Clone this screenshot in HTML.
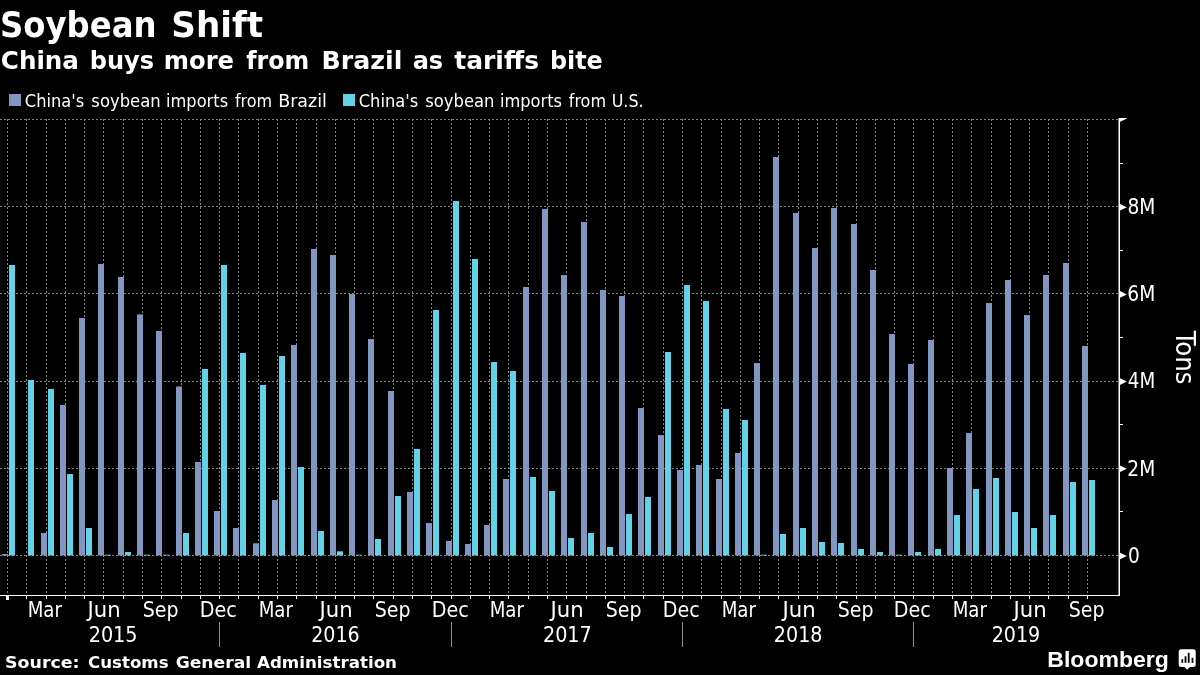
<!DOCTYPE html>
<html lang="en"><head><meta charset="utf-8"><title>Soybean Shift</title>
<style>
html,body{margin:0;padding:0;background:#000;}
body{width:1200px;height:675px;overflow:hidden;}
svg{display:block;}
text{fill:#fff;}
.b{font-family:"DejaVu Sans","Liberation Sans",sans-serif;font-weight:bold;}
.c{font-family:"DejaVu Sans Condensed","DejaVu Sans","Liberation Sans",sans-serif;}
.lg{font-family:"Liberation Sans","DejaVu Sans",sans-serif;font-weight:bold;}
</style></head><body>
<svg width="1200" height="675" viewBox="0 0 1200 675">
<rect width="1200" height="675" fill="#000"/>
<g stroke="#858585" stroke-width="1" stroke-dasharray="2 2" shape-rendering="crispEdges">
<line x1="0" y1="555.5" x2="1118" y2="555.5"/>
<line x1="0" y1="468.5" x2="1118" y2="468.5"/>
<line x1="0" y1="381.5" x2="1118" y2="381.5"/>
<line x1="0" y1="293.5" x2="1118" y2="293.5"/>
<line x1="0" y1="206.5" x2="1118" y2="206.5"/>
<line x1="0" y1="119.5" x2="1118" y2="119.5"/>
<line x1="7.5" y1="119" x2="7.5" y2="595"/>
<line x1="26.5" y1="119" x2="26.5" y2="595"/>
<line x1="46.5" y1="119" x2="46.5" y2="595"/>
<line x1="65.5" y1="119" x2="65.5" y2="595"/>
<line x1="84.5" y1="119" x2="84.5" y2="595"/>
<line x1="103.5" y1="119" x2="103.5" y2="595"/>
<line x1="123.5" y1="119" x2="123.5" y2="595"/>
<line x1="142.5" y1="119" x2="142.5" y2="595"/>
<line x1="161.5" y1="119" x2="161.5" y2="595"/>
<line x1="181.5" y1="119" x2="181.5" y2="595"/>
<line x1="200.5" y1="119" x2="200.5" y2="595"/>
<line x1="219.5" y1="119" x2="219.5" y2="595"/>
<line x1="238.5" y1="119" x2="238.5" y2="595"/>
<line x1="258.5" y1="119" x2="258.5" y2="595"/>
<line x1="277.5" y1="119" x2="277.5" y2="595"/>
<line x1="296.5" y1="119" x2="296.5" y2="595"/>
<line x1="316.5" y1="119" x2="316.5" y2="595"/>
<line x1="335.5" y1="119" x2="335.5" y2="595"/>
<line x1="354.5" y1="119" x2="354.5" y2="595"/>
<line x1="373.5" y1="119" x2="373.5" y2="595"/>
<line x1="393.5" y1="119" x2="393.5" y2="595"/>
<line x1="412.5" y1="119" x2="412.5" y2="595"/>
<line x1="431.5" y1="119" x2="431.5" y2="595"/>
<line x1="451.5" y1="119" x2="451.5" y2="595"/>
<line x1="470.5" y1="119" x2="470.5" y2="595"/>
<line x1="489.5" y1="119" x2="489.5" y2="595"/>
<line x1="508.5" y1="119" x2="508.5" y2="595"/>
<line x1="528.5" y1="119" x2="528.5" y2="595"/>
<line x1="547.5" y1="119" x2="547.5" y2="595"/>
<line x1="566.5" y1="119" x2="566.5" y2="595"/>
<line x1="586.5" y1="119" x2="586.5" y2="595"/>
<line x1="605.5" y1="119" x2="605.5" y2="595"/>
<line x1="624.5" y1="119" x2="624.5" y2="595"/>
<line x1="643.5" y1="119" x2="643.5" y2="595"/>
<line x1="663.5" y1="119" x2="663.5" y2="595"/>
<line x1="682.5" y1="119" x2="682.5" y2="595"/>
<line x1="701.5" y1="119" x2="701.5" y2="595"/>
<line x1="721.5" y1="119" x2="721.5" y2="595"/>
<line x1="740.5" y1="119" x2="740.5" y2="595"/>
<line x1="759.5" y1="119" x2="759.5" y2="595"/>
<line x1="778.5" y1="119" x2="778.5" y2="595"/>
<line x1="798.5" y1="119" x2="798.5" y2="595"/>
<line x1="817.5" y1="119" x2="817.5" y2="595"/>
<line x1="836.5" y1="119" x2="836.5" y2="595"/>
<line x1="856.5" y1="119" x2="856.5" y2="595"/>
<line x1="875.5" y1="119" x2="875.5" y2="595"/>
<line x1="894.5" y1="119" x2="894.5" y2="595"/>
<line x1="913.5" y1="119" x2="913.5" y2="595"/>
<line x1="933.5" y1="119" x2="933.5" y2="595"/>
<line x1="952.5" y1="119" x2="952.5" y2="595"/>
<line x1="971.5" y1="119" x2="971.5" y2="595"/>
<line x1="991.5" y1="119" x2="991.5" y2="595"/>
<line x1="1010.5" y1="119" x2="1010.5" y2="595"/>
<line x1="1029.5" y1="119" x2="1029.5" y2="595"/>
<line x1="1048.5" y1="119" x2="1048.5" y2="595"/>
<line x1="1068.5" y1="119" x2="1068.5" y2="595"/>
<line x1="1087.5" y1="119" x2="1087.5" y2="595"/>
</g>
<g fill="#8296c2">
<rect x="2" y="554" width="6" height="1.5"/>
<rect x="41" y="533" width="6" height="22.5"/>
<rect x="60" y="405" width="6" height="150.5"/>
<rect x="79" y="318" width="6" height="237.5"/>
<rect x="98" y="264" width="6" height="291.5"/>
<rect x="118" y="277" width="6" height="278.5"/>
<rect x="137" y="314.4" width="6" height="241.1"/>
<rect x="156" y="331" width="6" height="224.5"/>
<rect x="176" y="386.5" width="6" height="169.0"/>
<rect x="195" y="462" width="6" height="93.5"/>
<rect x="214" y="511" width="6" height="44.5"/>
<rect x="233" y="528" width="6" height="27.5"/>
<rect x="253" y="543.3" width="6" height="12.2"/>
<rect x="272" y="500" width="6" height="55.5"/>
<rect x="291" y="345" width="6" height="210.5"/>
<rect x="311" y="249" width="6" height="306.5"/>
<rect x="330" y="255" width="6" height="300.5"/>
<rect x="349" y="294" width="6" height="261.5"/>
<rect x="368" y="339" width="6" height="216.5"/>
<rect x="388" y="391" width="6" height="164.5"/>
<rect x="407" y="492" width="6" height="63.5"/>
<rect x="426" y="523" width="6" height="32.5"/>
<rect x="446" y="541" width="6" height="14.5"/>
<rect x="465" y="544" width="6" height="11.5"/>
<rect x="484" y="525" width="6" height="30.5"/>
<rect x="503" y="479" width="6" height="76.5"/>
<rect x="523" y="287" width="6" height="268.5"/>
<rect x="542" y="209" width="6" height="346.5"/>
<rect x="561" y="275" width="6" height="280.5"/>
<rect x="581" y="222" width="6" height="333.5"/>
<rect x="600" y="290" width="6" height="265.5"/>
<rect x="619" y="296" width="6" height="259.5"/>
<rect x="638" y="408" width="6" height="147.5"/>
<rect x="658" y="435" width="6" height="120.5"/>
<rect x="677" y="470" width="6" height="85.5"/>
<rect x="696" y="465" width="6" height="90.5"/>
<rect x="716" y="479" width="6" height="76.5"/>
<rect x="735" y="453" width="6" height="102.5"/>
<rect x="754" y="363" width="6" height="192.5"/>
<rect x="773" y="157" width="6" height="398.5"/>
<rect x="793" y="213" width="6" height="342.5"/>
<rect x="812" y="248" width="6" height="307.5"/>
<rect x="831" y="208" width="6" height="347.5"/>
<rect x="851" y="224" width="6" height="331.5"/>
<rect x="870" y="270" width="6" height="285.5"/>
<rect x="889" y="334" width="6" height="221.5"/>
<rect x="908" y="364" width="6" height="191.5"/>
<rect x="928" y="340" width="6" height="215.5"/>
<rect x="947" y="468" width="6" height="87.5"/>
<rect x="966" y="433" width="6" height="122.5"/>
<rect x="986" y="303" width="6" height="252.5"/>
<rect x="1005" y="280" width="6" height="275.5"/>
<rect x="1024" y="315" width="6" height="240.5"/>
<rect x="1043" y="275" width="6" height="280.5"/>
<rect x="1063" y="263" width="6" height="292.5"/>
<rect x="1082" y="346" width="6" height="209.5"/>
</g>
<g fill="#62d3e6">
<rect x="9" y="265" width="6" height="290.5"/>
<rect x="28" y="380" width="6" height="175.5"/>
<rect x="48" y="389" width="6" height="166.5"/>
<rect x="67" y="474" width="6" height="81.5"/>
<rect x="86" y="528" width="6" height="27.5"/>
<rect x="105" y="554.7" width="6" height="0.8"/>
<rect x="125" y="552" width="6" height="3.5"/>
<rect x="144" y="554.7" width="6" height="0.8"/>
<rect x="163" y="554.7" width="6" height="0.8"/>
<rect x="183" y="533" width="6" height="22.5"/>
<rect x="202" y="369" width="6" height="186.5"/>
<rect x="221" y="265" width="6" height="290.5"/>
<rect x="240" y="353" width="6" height="202.5"/>
<rect x="260" y="385" width="6" height="170.5"/>
<rect x="279" y="356" width="6" height="199.5"/>
<rect x="298" y="467" width="6" height="88.5"/>
<rect x="318" y="531" width="6" height="24.5"/>
<rect x="337" y="551.3" width="6" height="4.2"/>
<rect x="356" y="554.7" width="6" height="0.8"/>
<rect x="375" y="539" width="6" height="16.5"/>
<rect x="395" y="496" width="6" height="59.5"/>
<rect x="414" y="449" width="6" height="106.5"/>
<rect x="433" y="310" width="6" height="245.5"/>
<rect x="453" y="201" width="6" height="354.5"/>
<rect x="472" y="259" width="6" height="296.5"/>
<rect x="491" y="362" width="6" height="193.5"/>
<rect x="510" y="371" width="6" height="184.5"/>
<rect x="530" y="477" width="6" height="78.5"/>
<rect x="549" y="491" width="6" height="64.5"/>
<rect x="568" y="538" width="6" height="17.5"/>
<rect x="588" y="533" width="6" height="22.5"/>
<rect x="607" y="547" width="6" height="8.5"/>
<rect x="626" y="514" width="6" height="41.5"/>
<rect x="645" y="497" width="6" height="58.5"/>
<rect x="665" y="352" width="6" height="203.5"/>
<rect x="684" y="285" width="6" height="270.5"/>
<rect x="703" y="301" width="6" height="254.5"/>
<rect x="723" y="409" width="6" height="146.5"/>
<rect x="742" y="420" width="6" height="135.5"/>
<rect x="761" y="554.7" width="6" height="0.8"/>
<rect x="780" y="534" width="6" height="21.5"/>
<rect x="800" y="528" width="6" height="27.5"/>
<rect x="819" y="542" width="6" height="13.5"/>
<rect x="838" y="543" width="6" height="12.5"/>
<rect x="858" y="549" width="6" height="6.5"/>
<rect x="877" y="552" width="6" height="3.5"/>
<rect x="896" y="554.7" width="6" height="0.8"/>
<rect x="915" y="552" width="6" height="3.5"/>
<rect x="935" y="549" width="6" height="6.5"/>
<rect x="954" y="515" width="6" height="40.5"/>
<rect x="973" y="489" width="6" height="66.5"/>
<rect x="993" y="478" width="6" height="77.5"/>
<rect x="1012" y="512" width="6" height="43.5"/>
<rect x="1031" y="528" width="6" height="27.5"/>
<rect x="1050" y="515" width="6" height="40.5"/>
<rect x="1070" y="482" width="6" height="73.5"/>
<rect x="1089" y="480" width="6" height="75.5"/>
</g>
<g fill="#fff" shape-rendering="crispEdges">
<rect x="0" y="595" width="1120" height="1"/>
<rect x="1118.5" y="118" width="1.5" height="478" shape-rendering="geometricPrecision"/>
<rect x="6" y="595" width="3" height="5"/>
<rect x="26" y="595" width="1" height="4"/>
<rect x="46" y="595" width="1" height="4"/>
<rect x="65" y="595" width="1" height="4"/>
<rect x="84" y="595" width="1" height="4"/>
<rect x="103" y="595" width="1" height="4"/>
<rect x="123" y="595" width="1" height="4"/>
<rect x="142" y="595" width="1" height="4"/>
<rect x="161" y="595" width="1" height="4"/>
<rect x="181" y="595" width="1" height="4"/>
<rect x="200" y="595" width="1" height="4"/>
<rect x="219" y="595" width="1" height="4"/>
<rect x="238" y="595" width="1" height="4"/>
<rect x="258" y="595" width="1" height="4"/>
<rect x="277" y="595" width="1" height="4"/>
<rect x="296" y="595" width="1" height="4"/>
<rect x="316" y="595" width="1" height="4"/>
<rect x="335" y="595" width="1" height="4"/>
<rect x="354" y="595" width="1" height="4"/>
<rect x="373" y="595" width="1" height="4"/>
<rect x="393" y="595" width="1" height="4"/>
<rect x="412" y="595" width="1" height="4"/>
<rect x="431" y="595" width="1" height="4"/>
<rect x="451" y="595" width="1" height="4"/>
<rect x="470" y="595" width="1" height="4"/>
<rect x="489" y="595" width="1" height="4"/>
<rect x="508" y="595" width="1" height="4"/>
<rect x="528" y="595" width="1" height="4"/>
<rect x="547" y="595" width="1" height="4"/>
<rect x="566" y="595" width="1" height="4"/>
<rect x="586" y="595" width="1" height="4"/>
<rect x="605" y="595" width="1" height="4"/>
<rect x="624" y="595" width="1" height="4"/>
<rect x="643" y="595" width="1" height="4"/>
<rect x="663" y="595" width="1" height="4"/>
<rect x="682" y="595" width="1" height="4"/>
<rect x="701" y="595" width="1" height="4"/>
<rect x="721" y="595" width="1" height="4"/>
<rect x="740" y="595" width="1" height="4"/>
<rect x="759" y="595" width="1" height="4"/>
<rect x="778" y="595" width="1" height="4"/>
<rect x="798" y="595" width="1" height="4"/>
<rect x="817" y="595" width="1" height="4"/>
<rect x="836" y="595" width="1" height="4"/>
<rect x="856" y="595" width="1" height="4"/>
<rect x="875" y="595" width="1" height="4"/>
<rect x="894" y="595" width="1" height="4"/>
<rect x="913" y="595" width="1" height="4"/>
<rect x="933" y="595" width="1" height="4"/>
<rect x="952" y="595" width="1" height="4"/>
<rect x="971" y="595" width="1" height="4"/>
<rect x="991" y="595" width="1" height="4"/>
<rect x="1010" y="595" width="1" height="4"/>
<rect x="1029" y="595" width="1" height="4"/>
<rect x="1048" y="595" width="1" height="4"/>
<rect x="1068" y="595" width="1" height="4"/>
<rect x="1087" y="595" width="1" height="4"/>
<rect x="1119" y="511" width="4" height="1"/>
<rect x="1119" y="424" width="4" height="1"/>
<rect x="1119" y="337" width="4" height="1"/>
<rect x="1119" y="250" width="4" height="1"/>
<rect x="1119" y="162.6" width="4" height="1"/>
</g>
<g fill="#fff">
<path d="M1119 552.2 L1126.8 556.0 L1119 559.8 Z"/>
<path d="M1119 465.0 L1126.8 468.8 L1119 472.6 Z"/>
<path d="M1119 377.8 L1126.8 381.6 L1119 385.4 Z"/>
<path d="M1119 290.6 L1126.8 294.4 L1119 298.2 Z"/>
<path d="M1119 203.4 L1126.8 207.2 L1119 211.0 Z"/>
<path d="M1119 118 L1127 118 L1127 118.6 L1119 122.3 Z"/>
</g>
<g fill="#8f8f8f" shape-rendering="crispEdges">
<rect x="219" y="622" width="1" height="25"/>
<rect x="451" y="622" width="1" height="25"/>
<rect x="682" y="622" width="1" height="25"/>
<rect x="913" y="622" width="1" height="25"/>
</g>
<text class="c" font-size="20.5" x="1127.99" y="562.8" textLength="11.80" lengthAdjust="spacingAndGlyphs">0</text>
<text class="c" font-size="20.5" x="1127.39" y="475.6" textLength="27.90" lengthAdjust="spacingAndGlyphs">2M</text>
<text class="c" font-size="20.5" x="1127.84" y="388.4" textLength="27.41" lengthAdjust="spacingAndGlyphs">4M</text>
<text class="c" font-size="20.5" x="1127.39" y="301.2" textLength="27.90" lengthAdjust="spacingAndGlyphs">6M</text>
<text class="c" font-size="20.5" x="1127.43" y="214.0" textLength="27.86" lengthAdjust="spacingAndGlyphs">8M</text>
<g transform="translate(1175.8 0) rotate(90)"><text class="c" font-size="27" x="330.88" y="0.0" textLength="53.57" lengthAdjust="spacingAndGlyphs">Tons</text></g>
<text class="c" font-size="20.5" x="27.67" y="616.5" textLength="34.27" lengthAdjust="spacingAndGlyphs">Mar</text>
<text class="c" font-size="20.5" x="87.49" y="616.5" textLength="33.11" lengthAdjust="spacingAndGlyphs">Jun</text>
<text class="c" font-size="20.5" x="142.74" y="616.5" textLength="35.79" lengthAdjust="spacingAndGlyphs">Sep</text>
<text class="c" font-size="20.5" x="199.82" y="616.5" textLength="37.11" lengthAdjust="spacingAndGlyphs">Dec</text>
<text class="c" font-size="20.5" x="258.67" y="616.5" textLength="34.27" lengthAdjust="spacingAndGlyphs">Mar</text>
<text class="c" font-size="20.5" x="319.49" y="616.5" textLength="33.11" lengthAdjust="spacingAndGlyphs">Jun</text>
<text class="c" font-size="20.5" x="374.74" y="616.5" textLength="35.79" lengthAdjust="spacingAndGlyphs">Sep</text>
<text class="c" font-size="20.5" x="431.82" y="616.5" textLength="37.11" lengthAdjust="spacingAndGlyphs">Dec</text>
<text class="c" font-size="20.5" x="489.67" y="616.5" textLength="34.27" lengthAdjust="spacingAndGlyphs">Mar</text>
<text class="c" font-size="20.5" x="550.49" y="616.5" textLength="33.11" lengthAdjust="spacingAndGlyphs">Jun</text>
<text class="c" font-size="20.5" x="605.74" y="616.5" textLength="35.79" lengthAdjust="spacingAndGlyphs">Sep</text>
<text class="c" font-size="20.5" x="662.82" y="616.5" textLength="37.11" lengthAdjust="spacingAndGlyphs">Dec</text>
<text class="c" font-size="20.5" x="721.67" y="616.5" textLength="34.27" lengthAdjust="spacingAndGlyphs">Mar</text>
<text class="c" font-size="20.5" x="782.49" y="616.5" textLength="33.11" lengthAdjust="spacingAndGlyphs">Jun</text>
<text class="c" font-size="20.5" x="837.74" y="616.5" textLength="35.79" lengthAdjust="spacingAndGlyphs">Sep</text>
<text class="c" font-size="20.5" x="893.82" y="616.5" textLength="37.11" lengthAdjust="spacingAndGlyphs">Dec</text>
<text class="c" font-size="20.5" x="952.67" y="616.5" textLength="34.27" lengthAdjust="spacingAndGlyphs">Mar</text>
<text class="c" font-size="20.5" x="1013.49" y="616.5" textLength="33.11" lengthAdjust="spacingAndGlyphs">Jun</text>
<text class="c" font-size="20.5" x="1068.74" y="616.5" textLength="35.79" lengthAdjust="spacingAndGlyphs">Sep</text>
<text class="c" font-size="20.5" x="88.65" y="641.5" textLength="48.96" lengthAdjust="spacingAndGlyphs">2015</text>
<text class="c" font-size="20.5" x="311.16" y="641.5" textLength="48.50" lengthAdjust="spacingAndGlyphs">2016</text>
<text class="c" font-size="20.5" x="542.95" y="641.5" textLength="48.88" lengthAdjust="spacingAndGlyphs">2017</text>
<text class="c" font-size="20.5" x="773.86" y="641.5" textLength="48.60" lengthAdjust="spacingAndGlyphs">2018</text>
<text class="c" font-size="20.5" x="991.66" y="641.5" textLength="48.62" lengthAdjust="spacingAndGlyphs">2019</text>
<text class="b" font-size="35.5" y="36.9"><tspan x="-0.04" textLength="156.62" lengthAdjust="spacingAndGlyphs">Soybean</tspan> <tspan x="171.33" textLength="91.88" lengthAdjust="spacingAndGlyphs">Shift</tspan></text>
<text class="b" font-size="25.5" y="68.8"><tspan x="0.84" textLength="78.11" lengthAdjust="spacingAndGlyphs">China</tspan> <tspan x="89.70" textLength="64.42" lengthAdjust="spacingAndGlyphs">buys</tspan> <tspan x="163.81" textLength="70.25" lengthAdjust="spacingAndGlyphs">more</tspan> <tspan x="246.30" textLength="63.00" lengthAdjust="spacingAndGlyphs">from</tspan> <tspan x="321.52" textLength="80.80" lengthAdjust="spacingAndGlyphs">Brazil</tspan> <tspan x="412.64" textLength="30.57" lengthAdjust="spacingAndGlyphs">as</tspan> <tspan x="454.21" textLength="84.81" lengthAdjust="spacingAndGlyphs">tariffs</tspan> <tspan x="549.92" textLength="52.92" lengthAdjust="spacingAndGlyphs">bite</tspan></text>
<rect x="9" y="94" width="12" height="12" fill="#8296c2"/>
<rect x="343" y="94" width="12" height="12" fill="#62d3e6"/>
<text class="c" font-size="18" y="106.7"><tspan x="24.87" textLength="59.40" lengthAdjust="spacingAndGlyphs">China's</tspan> <tspan x="91.36" textLength="69.22" lengthAdjust="spacingAndGlyphs">soybean</tspan> <tspan x="166.03" textLength="62.08" lengthAdjust="spacingAndGlyphs">imports</tspan> <tspan x="234.88" textLength="37.24" lengthAdjust="spacingAndGlyphs">from</tspan> <tspan x="278.15" textLength="48.78" lengthAdjust="spacingAndGlyphs">Brazil</tspan></text>
<text class="c" font-size="18" y="106.7"><tspan x="358.77" textLength="59.40" lengthAdjust="spacingAndGlyphs">China's</tspan> <tspan x="425.26" textLength="69.22" lengthAdjust="spacingAndGlyphs">soybean</tspan> <tspan x="499.93" textLength="62.08" lengthAdjust="spacingAndGlyphs">imports</tspan> <tspan x="568.78" textLength="37.24" lengthAdjust="spacingAndGlyphs">from</tspan> <tspan x="611.67" textLength="31.94" lengthAdjust="spacingAndGlyphs">U.S.</tspan></text>
<text class="b" font-size="16.5" y="667.6"><tspan x="5.03" textLength="74.57" lengthAdjust="spacingAndGlyphs">Source:</tspan> <tspan x="88.00" textLength="80.56" lengthAdjust="spacingAndGlyphs">Customs</tspan> <tspan x="175.67" textLength="75.46" lengthAdjust="spacingAndGlyphs">General</tspan> <tspan x="256.97" textLength="140.02" lengthAdjust="spacingAndGlyphs">Administration</tspan></text>
<text class="lg" font-size="22" x="1047.32" y="666.9" textLength="121.53" lengthAdjust="spacingAndGlyphs">Bloomberg</text>
<g><path fill="#fff" d="M1181.2 649.2 h12 a2.5 2.5 0 0 1 2.5 2.5 v12.7 a2.5 2.5 0 0 1 -2.5 2.5 h-3.2 l-2.8 2.9 l-2.8 -2.9 h-3.2 a2.5 2.5 0 0 1 -2.5 -2.5 v-12.7 a2.5 2.5 0 0 1 2.5 -2.5 z"/>
<g fill="#000"><rect x="1181.4" y="659.2" width="1.8" height="3.6"/><rect x="1184.6" y="656.3" width="1.8" height="6.5"/><rect x="1187.8" y="652.8" width="1.8" height="10"/><rect x="1191.6" y="657.8" width="1.8" height="5"/></g></g>
</svg></body></html>
